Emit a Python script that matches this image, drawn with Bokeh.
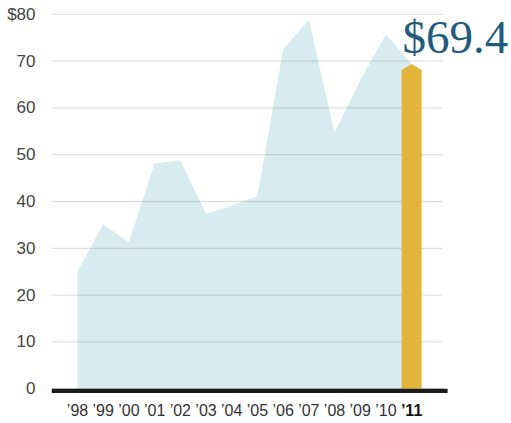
from bokeh.plotting import figure
from bokeh.models import Range1d, FixedTicker, ColumnDataSource
from bokeh.core.properties import value
from bokeh.embed import file_html
from bokeh.resources import INLINE

# ---- data ----
year_labels = ["\u201998", "\u201999", "\u201900", "\u201901", "\u201902", "\u201903", "\u201904",
               "\u201905", "\u201906", "\u201907", "\u201908", "\u201909", "\u201910", "\u201911"]
values = [25.1, 35.1, 31.3, 48.1, 48.8, 37.4, 39.1, 41.1, 72.5, 78.9, 54.7, 65.9, 75.7, 69.4]
highlight_value = 69.4
y_ticks = [0, 10, 20, 30, 40, 50, 60, 70, 80]
y_tick_labels = {80: "$80"}

idx = list(range(len(year_labels)))
last = idx[-1]

X0, X1 = -1.012, 16.887
Y0, Y1 = -7.44, 82.95

p = figure(width=511, height=423, output_backend="svg", toolbar_location=None,
           x_range=Range1d(X0, X1), y_range=Range1d(Y0, Y1),
           x_axis_location=None, min_border_left=51, min_border_right=0,
           min_border_top=0, min_border_bottom=0)
p.outline_line_color = None
p.xgrid.visible = False
p.ygrid.visible = False
p.background_fill_color = "white"

# area
p.varea(x=idx, y1=[0] * len(idx), y2=values, fill_color="#d6ecf0")

# gridlines (on top of area)
grid_end = 14.2
p.segment(x0=[X0] * len(y_ticks), x1=[grid_end] * len(y_ticks), y0=y_ticks, y1=y_ticks,
          line_color="black", line_alpha=0.12, line_width=1.3)

# highlighted bar with pointed top
hw = 0.39
d = 1.3
xc = last
p.patch(x=[xc - hw, xc - hw, xc, xc + hw, xc + hw],
        y=[0, highlight_value - d, highlight_value, highlight_value - d, 0],
        fill_color="#e3b43a", line_color=None)

# baseline rule
p.quad(left=[X0], right=[14.4], bottom=[-0.9], top=[0.0], fill_color="#1a1a1a", line_color=None)

# value label
p.text(x=[xc], y=[highlight_value], text=["$%.1f" % highlight_value], x_offset=-9, y_offset=-27,
       text_align="left", text_baseline="alphabetic", text_font=value("Liberation Serif"),
       text_font_size="47px", text_color="#1f5c7e")

# x labels
src = ColumnDataSource(dict(x=idx[:-1], y=[0] * (len(idx) - 1), t=year_labels[:-1]))
p.text(x="x", y="y", text="t", source=src, y_offset=22, text_align="center",
       text_baseline="middle", text_font=value("Liberation Sans"), text_font_size="16px",
       text_color="#333333")
p.text(x=[last], y=[0], text=[year_labels[-1]], y_offset=22, text_align="center",
       text_baseline="middle", text_font=value("Liberation Sans"), text_font_size="16px",
       text_font_style="bold", text_color="#111111")

# y axis
ya = p.yaxis[0]
ya.ticker = FixedTicker(ticks=y_ticks)
ya.major_label_overrides = y_tick_labels
ya.axis_line_color = None
ya.major_tick_line_color = None
ya.minor_tick_line_color = None
ya.major_label_standoff = 10
ya.major_label_text_font = "Liberation Sans"
ya.major_label_text_font_size = "17px"
ya.major_label_text_color = "#444444"

open("out.html", "w").write(file_html(p, INLINE))
